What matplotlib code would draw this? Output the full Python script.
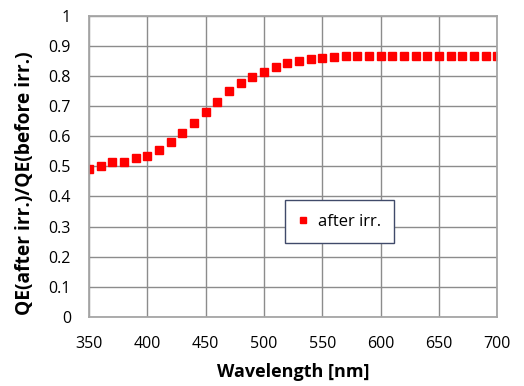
import matplotlib.pyplot as plt

wavelength = list(range(350, 701, 10))
ratio = [0.490, 0.500, 0.513, 0.513, 0.528, 0.535, 0.556, 0.580, 0.611, 0.645,
         0.679, 0.714, 0.749, 0.776, 0.797, 0.815, 0.831, 0.843, 0.851, 0.857,
         0.861, 0.863, 0.865, 0.866, 0.866, 0.866, 0.866, 0.866, 0.866, 0.866,
         0.866, 0.866, 0.866, 0.866, 0.867, 0.868]

plt.rcParams['font.family'] = ['Open Sans', 'DejaVu Sans']

fig = plt.figure(figsize=(5.24, 3.86), dpi=100)
ax = fig.add_axes([0.170, 0.179, 0.779, 0.780])

ax.plot(wavelength, ratio, linestyle='none', marker='s', markersize=5.6,
        color='#ff0000', label='after irr.')

ax.set_xlim(350, 700)
ax.set_ylim(0, 1)
ax.set_xticks(range(350, 701, 50))
ax.set_yticks([i / 10 for i in range(11)])
ax.set_yticklabels(['0', '0.1', '0.2', '0.3', '0.4', '0.5', '0.6', '0.7', '0.8', '0.9', '1'])
ax.tick_params(labelsize=11.5, length=0)
ax.tick_params(axis='x', pad=14)
ax.tick_params(axis='y', pad=13)
ax.grid(True, color='#8c8c8c', linewidth=1)
ax.set_axisbelow(True)
for s in ax.spines.values():
    s.set_color('#a6a6a6')
    s.set_linewidth(1.3)

ax.set_xlabel('Wavelength [nm]', fontsize=13, fontweight='bold', labelpad=8)
ax.set_ylabel('QE(after irr.)/QE(before irr.)', fontsize=13.8, fontweight='bold',
              va='center')
ax.yaxis.set_label_coords(-0.157, 0.445)

leg = ax.legend(loc='lower left', bbox_to_anchor=(0.48, 0.245), fontsize=12,
                fancybox=False, framealpha=1, handlelength=0.6, handletextpad=0.55,
                borderpad=0.8, borderaxespad=0, markerscale=0.88)
leg.get_frame().set_edgecolor('#404a6a')

fig.savefig('out.png', dpi=100)
